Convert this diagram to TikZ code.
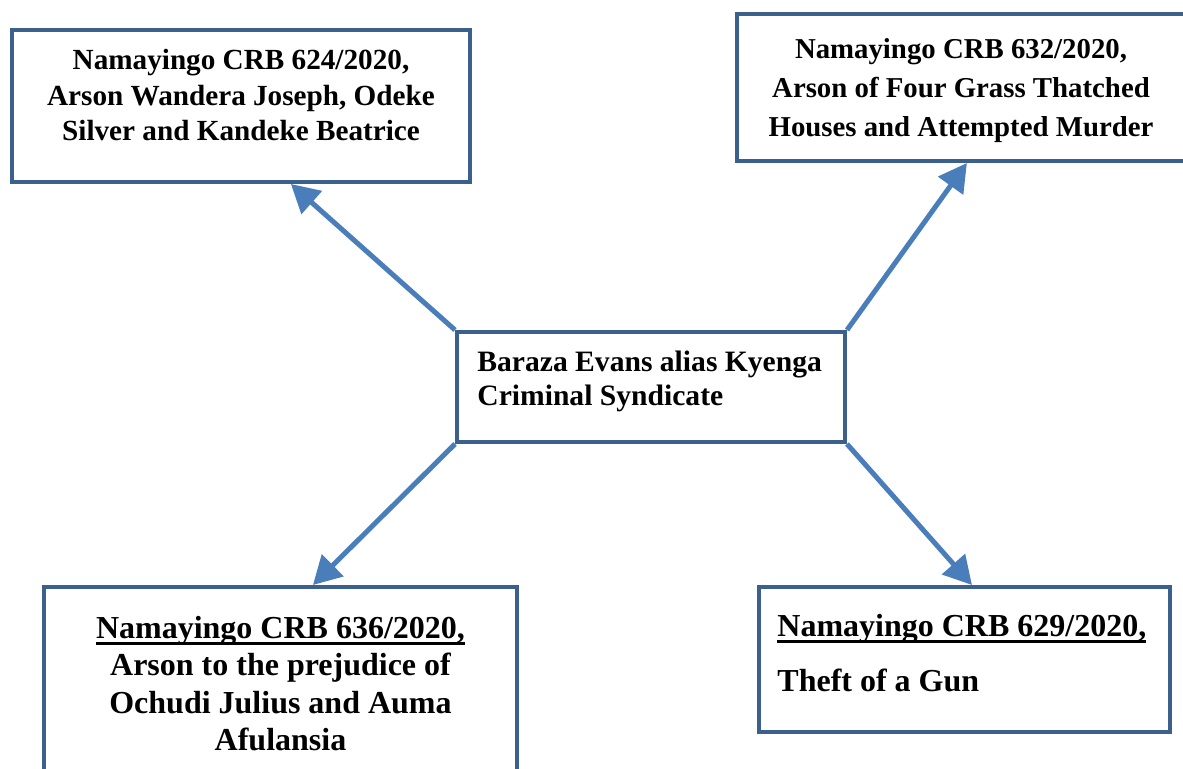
\documentclass[tikz,border=0pt]{standalone}
\usepackage{fontspec}
\setmainfont{Liberation Serif}
\usepackage{xcolor}
\usepackage{tikz}
\usetikzlibrary{positioning,arrows.meta,calc}

\definecolor{boxedge}{RGB}{60,96,142}
\definecolor{linkblue}{RGB}{74,126,187}
\newcommand{\ulhead}[1]{\setbox0=\hbox{#1}\rlap{\rule[-0.19em]{\wd0}{0.09em}}\box0}

\begin{document}
\begin{tikzpicture}[x=0.5pt,y=-0.5pt]
  \tikzstyle{casebox}=[draw=boxedge, line width=2pt, fill=white, inner sep=0pt]
  \tikzstyle{casetext}=[inner sep=0pt, font=\bfseries]
  \tikzstyle{link}=[draw=linkblue, line width=2.5pt, -{Triangle[length=14pt,width=15pt]}]
  \useasboundingbox (0,0) rectangle (1183,769);

  % boxes
  \node[casebox, minimum width=229pt, minimum height=76pt] (tl) at (241,106) {};
  \node[casebox, minimum width=224pt, minimum height=73.5pt] (tr) at (961,87.5) {};
  \node[casebox, minimum width=194pt, minimum height=55pt] (hub) at (651,387) {};
  \node[casebox, minimum width=236.5pt, minimum height=106.5pt] (bl) at (280.5,693.5) {};
  \node[casebox, minimum width=205.5pt, minimum height=72.5pt] (br) at (964.5,659.5) {};

  % texts
  \node[casetext, align=center, font=\bfseries\fontsize{14.6}{17.8}\selectfont,
        below=10.5pt of tl.north] (tltext)
    {Namayingo CRB 624/2020,\\Arson Wandera Joseph, Odeke\\Silver and Kandeke Beatrice};
  \node[casetext, align=center, font=\bfseries\fontsize{14.4}{19.5}\selectfont,
        below=13pt of tr.north] (trtext)
    {Namayingo CRB 632/2020,\\Arson of Four Grass Thatched\\Houses and Attempted Murder};
  \node[casetext, align=left, font=\bfseries\fontsize{14.8}{16.8}\selectfont,
        below right=10.5pt and 11pt of hub.north west] (hubtext)
    {Baraza Evans alias Kyenga\\Criminal Syndicate};
  \node[casetext, align=center, font=\bfseries\fontsize{16}{18.6}\selectfont,
        below=15.5pt of bl.north] (bltext)
    {\ulhead{Namayingo CRB 636/2020,}\\Arson to the prejudice of\\Ochudi Julius and Auma\\Afulansia};
  \node[casetext, align=left, font=\bfseries\fontsize{16}{18.3}\selectfont,
        below right=14.5pt and 10pt of br.north west] (brtext)
    {\ulhead{Namayingo CRB 629/2020,}\\[9.2pt]Theft of a Gun};

  % links
  \draw[link] (hub.north west) -- ($(tl.south west)!0.608!(tl.south east)$);
  \draw[link] (hub.north east) -- ($(tr.south west)!0.513!(tr.south east)$);
  \draw[link] (hub.south west) -- ($(bl.north west)!0.568!(bl.north east)$);
  \draw[link] (hub.south east) -- ($(br.north west)!0.518!(br.north east)$);
\end{tikzpicture}
\end{document}
